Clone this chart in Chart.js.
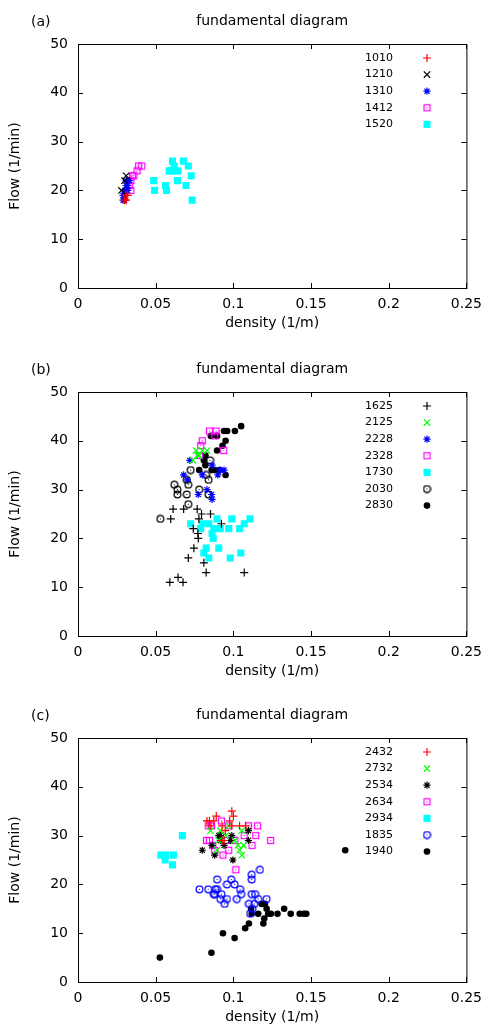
<!DOCTYPE html>
<html>
<head>
<meta charset="utf-8">
<script src="https://cdn.jsdelivr.net/npm/chart.js@4"></script>
<style>
  body { margin: 0; background: #fff; }
  #wrap { position: relative; width: 490px; height: 1030px; }
  canvas { position: absolute; left: 0; }
</style>
</head>
<body>
<div id="wrap">
  <canvas id="chartA" width="490" height="336" style="top:0px"></canvas>
  <canvas id="chartB" width="490" height="336" style="top:348px"></canvas>
  <canvas id="chartC" width="490" height="336" style="top:694px"></canvas>
</div>
<script>
// axis ticks
const xTicks = [0, 0.05, 0.1, 0.15, 0.2, 0.25];
const yTicks = [0, 10, 20, 30, 40, 50];

// panel (a)
const s1010 = [[0.031,19],[0.032,19],[0.031,18],[0.030,18]];
const s1210 = [[0.028,20],[0.031,23],[0.030,22]];
const s1310 = [[0.029,18],[0.030,18],[0.030,19],[0.031,20],[0.032,21],[0.033,22],[0.031,21],[0.032,20],[0.030,20],[0.031,22],[0.029,19]];
const s1412 = [[0.041,25],[0.039,25],[0.038,24],[0.036,23],[0.035,23],[0.034,22],[0.033,21],[0.034,20]];
const s1520 = [[0.0608,26],[0.0678,26],[0.0587,24],[0.0644,24],[0.0619,25],[0.071,25],[0.0729,23],[0.0487,22],
  [0.064,22],[0.0563,21],[0.0695,21],[0.0493,20],[0.057,20],[0.0735,18],[0.060,24],[0.062,24]];

// panel (b)
const s1625 = [[0.0612,26],[0.068,26],[0.0767,26],[0.0795,25],[0.0853,25],[0.0597,24],[0.0778,24],[0.0923,23],
  [0.0742,22],[0.0772,21],[0.0774,20],[0.0746,18],[0.071,16],[0.081,15],[0.0825,13],[0.107,13],[0.0644,12],
  [0.0591,11],[0.0676,11]];
const s2125 = [[0.076,38],[0.083,38],[0.078,37],[0.074,36],[0.080,38],[0.077,37]];
const s2228 = [[0.072,36],[0.0863,35],[0.068,33],[0.080,33],[0.0916,34],[0.090,33],[0.094,34],[0.0704,32],
  [0.083,30],[0.0774,29],[0.086,29],[0.0863,28]];
const s2328 = [[0.0846,42],[0.0889,42],[0.088,41],[0.080,40],[0.079,39],[0.0938,38],[0.0782,37]];
const s1730 = [[0.0725,23],[0.080,23],[0.0842,23],[0.0895,24],[0.099,24],[0.1107,24],[0.107,23],[0.0789,22],
  [0.0874,22],[0.0916,22],[0.097,22],[0.104,22],[0.0863,21],[0.087,20],[0.0825,18],[0.0906,18],[0.081,17],
  [0.0842,16],[0.098,16],[0.1048,17]];
const s2030 = [[0.085,36],[0.0725,34],[0.0825,33],[0.084,32],[0.070,32],[0.071,31],[0.062,31],[0.064,30],
  [0.064,29],[0.070,29],[0.078,30],[0.084,29],[0.071,27],[0.053,24]];
const s2830 = [[0.105,43],[0.101,42],[0.096,42],[0.094,42],[0.0895,41],[0.0855,41],[0.095,40],[0.093,39],
  [0.0895,38],[0.082,37],[0.081,36],[0.082,35],[0.078,34],[0.086,34],[0.088,34],[0.091,34],[0.095,33]];

// panel (c)
const s2432 = [[0.099,35],[0.100,34],[0.089,34],[0.0846,33],[0.0874,33],[0.0976,33],[0.083,33],[0.0927,32],
  [0.099,32],[0.104,32],[0.108,32],[0.0948,31],[0.0927,29],[0.094,29],[0.085,32]];
const s2732 = [[0.0853,31],[0.0916,31],[0.097,32],[0.1054,31],[0.103,28],[0.1054,26],[0.104,27],[0.0895,27],
  [0.101,29],[0.0906,29],[0.095,30],[0.1065,28]];
const s2534 = [[0.080,27],[0.088,26],[0.0997,25],[0.0916,29],[0.098,29],[0.1097,29],[0.1097,31],[0.0863,28],
  [0.0916,30],[0.0906,30],[0.099,30],[0.094,28]];
const s2634 = [[0.0838,32],[0.0859,32],[0.0923,33],[0.097,32],[0.1097,32],[0.1156,32],[0.1144,30],[0.107,30],
  [0.101,29],[0.0827,29],[0.0846,29],[0.124,29],[0.0867,28],[0.112,28],[0.0933,26],[0.097,27],[0.0916,30],
  [0.1016,23],[0.096,29],[0.088,27]];
const s2934 = [[0.0672,30],[0.0533,26],[0.0565,26],[0.0614,26],[0.0561,25],[0.0608,24]];
const s1835 = [[0.1171,23],[0.1118,22],[0.1118,21],[0.0895,21],[0.0986,21],[0.0959,20],[0.1008,20],[0.0782,19],
  [0.0838,19],[0.0884,19],[0.0895,19],[0.1043,19],[0.0874,18],[0.0923,18],[0.105,18],[0.1118,18],[0.114,18],
  [0.0916,17],[0.0959,17],[0.1022,17],[0.1214,17],[0.116,17],[0.0944,16],[0.110,16],[0.1108,14],[0.1122,15],
  [0.088,18],[0.1135,16]];
const s1940 = [[0.0527,5],[0.0859,6],[0.0933,10],[0.1008,9],[0.1076,11],[0.110,12],[0.1193,12],[0.1199,13],
  [0.1327,15],[0.1369,14],[0.1284,14],[0.1224,14],[0.1241,14],[0.116,14],[0.1118,14],[0.1427,14],[0.1454,14],
  [0.1469,14],[0.1182,16],[0.1203,16],[0.1214,15],[0.1114,15],[0.172,27]];

const FONT = '"DejaVu Sans", sans-serif';

// open square / open circle with a dot in the middle, like gnuplot
function marker(kind, color) {
  const c = document.createElement('canvas');
  c.width = 9; c.height = 9;
  const g = c.getContext('2d');
  g.strokeStyle = color; g.fillStyle = color; g.lineWidth = 1.2;
  if (kind === 'sq') g.strokeRect(1.5, 1.5, 6, 6);
  else { g.beginPath(); g.arc(4.5, 4.5, 3.4, 0, Math.PI * 2); g.stroke(); }
  g.fillRect(4, 4, 1, 1);
  return c;
}

function series(label, pts, style, color) {
  const d = {
    label: label,
    data: pts.map(p => ({ x: p[0], y: p[1] })),
    borderColor: color,
    backgroundColor: color,
    borderWidth: 1.2,
    showLine: false
  };
  if (style === '+') { d.pointStyle = 'cross'; d.pointRadius = 4; }
  if (style === 'x') { d.pointStyle = 'crossRot'; d.pointRadius = 4.5; }
  if (style === '*') { d.pointStyle = 'star'; d.pointRadius = 3.6; }
  if (style === 'osq') { d.pointStyle = marker('sq', color); d.pointRadius = 4.5; }
  if (style === 'fsq') { d.pointStyle = 'rect'; d.pointRadius = 5; d.borderWidth = 0; }
  if (style === 'oc') { d.pointStyle = marker('c', color); d.pointRadius = 4.5; }
  if (style === 'fc') { d.pointStyle = 'circle'; d.pointRadius = 3.3; d.borderWidth = 0; }
  d.pointHoverRadius = d.pointRadius;
  return d;
}

const frame = {
  id: 'frame',
  afterDraw(chart, args, o) {
    const { ctx, chartArea: a, scales } = chart;
    ctx.save();
    ctx.strokeStyle = '#000';
    ctx.lineWidth = 1;
    ctx.strokeRect(a.left + 0.5, a.top + 0.5, a.right - a.left, a.bottom - a.top);
    ctx.beginPath();
    scales.x.ticks.forEach(t => {
      const px = Math.round(scales.x.getPixelForValue(t.value)) + 0.5;
      ctx.moveTo(px, a.bottom); ctx.lineTo(px, a.bottom - 5);
      ctx.moveTo(px, a.top); ctx.lineTo(px, a.top + 5);
    });
    scales.y.ticks.forEach(t => {
      const py = Math.round(scales.y.getPixelForValue(t.value)) + 0.5;
      ctx.moveTo(a.left, py); ctx.lineTo(a.left + 5, py);
      ctx.moveTo(a.right, py); ctx.lineTo(a.right - 5, py);
    });
    ctx.stroke();

    ctx.fillStyle = '#000';
    ctx.font = '14px ' + FONT;
    ctx.textBaseline = 'middle';
    ctx.textAlign = 'center';
    ctx.fillText(o.title, (a.left + a.right) / 2, a.top - 23);
    ctx.fillText('density (1/m)', (a.left + a.right) / 2, a.bottom + 35);
    ctx.textAlign = 'left';
    ctx.fillText(o.tag, 31, a.top - 22);
    ctx.save();
    ctx.translate(15, (a.top + a.bottom) / 2);
    ctx.rotate(-Math.PI / 2);
    ctx.textAlign = 'center';
    ctx.fillText('Flow (1/min)', 0, 0);
    ctx.restore();

    // key, inside the top right corner
    ctx.font = '11px ' + FONT;
    ctx.textAlign = 'right';
    chart.data.datasets.forEach((ds, i) => {
      const y = a.top + 14 + i * 16.6;
      ctx.fillStyle = '#000';
      ctx.fillText(ds.label, 393, y);
      ctx.fillStyle = ds.backgroundColor;
      ctx.strokeStyle = ds.borderColor;
      ctx.lineWidth = ds.borderWidth || 1;
      Chart.helpers.drawPoint(ctx, {
        pointStyle: ds.pointStyle, radius: ds.pointRadius, rotation: 0, borderWidth: ds.borderWidth
      }, 427, y);
    });
    ctx.restore();
  }
};

function makeChart(id, tag, datasets) {
  return new Chart(document.getElementById(id), {
    type: 'scatter',
    data: { datasets: datasets },
    options: {
      responsive: false,
      animation: false,
      devicePixelRatio: 1,
      layout: { padding: { left: 0, right: 20, top: 44, bottom: 0 } },
      plugins: {
        legend: { display: false },
        tooltip: { enabled: false },
        frame: { title: 'fundamental diagram', tag: tag }
      },
      scales: {
        x: {
          type: 'linear', min: 0, max: 0.25,
          afterBuildTicks: s => { s.ticks = xTicks.map(v => ({ value: v })); },
          afterFit: s => { s.height = 48; },
          grid: { display: false, drawTicks: false },
          border: { display: false },
          ticks: {
            padding: 8, color: '#000', font: { family: FONT, size: 14 },
            callback: v => String(parseFloat(v.toFixed(2)))
          }
        },
        y: {
          type: 'linear', min: 0, max: 50,
          afterBuildTicks: s => { s.ticks = yTicks.map(v => ({ value: v })); },
          afterFit: s => { s.width = 78; },
          grid: { display: false, drawTicks: false },
          border: { display: false },
          ticks: { padding: 10, color: '#000', font: { family: FONT, size: 14 } }
        }
      }
    },
    plugins: [frame]
  });
}

makeChart('chartA', '(a)', [
  series('1010', s1010, '+', '#ff0000'),
  series('1210', s1210, 'x', '#000000'),
  series('1310', s1310, '*', '#0000ff'),
  series('1412', s1412, 'osq', '#ff00ff'),
  series('1520', s1520, 'fsq', '#00ffff')
]);

makeChart('chartB', '(b)', [
  series('1625', s1625, '+', '#000000'),
  series('2125', s2125, 'x', '#00ff00'),
  series('2228', s2228, '*', '#0000ff'),
  series('2328', s2328, 'osq', '#ff00ff'),
  series('1730', s1730, 'fsq', '#00ffff'),
  series('2030', s2030, 'oc', '#000000'),
  series('2830', s2830, 'fc', '#000000')
]);

makeChart('chartC', '(c)', [
  series('2432', s2432, '+', '#ff0000'),
  series('2732', s2732, 'x', '#00ff00'),
  series('2534', s2534, '*', '#000000'),
  series('2634', s2634, 'osq', '#ff00ff'),
  series('2934', s2934, 'fsq', '#00ffff'),
  series('1835', s1835, 'oc', '#0000ff'),
  series('1940', s1940, 'fc', '#000000')
]);
</script>
</body>
</html>
